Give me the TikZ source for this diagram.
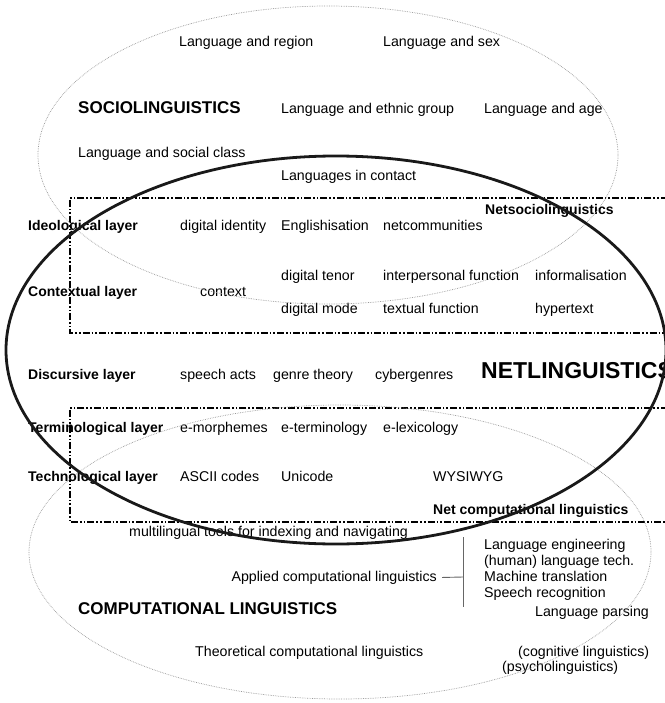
\documentclass[tikz,border=0pt]{standalone}
\usepackage{fontspec}
\setmainfont{Liberation Sans}
\begin{document}
\begin{tikzpicture}[x=1pt,y=-1pt,
  lbl/.style={anchor=mid west,inner sep=0pt,yshift=-2.5pt,font=\fontsize{14.2}{16}\selectfont},
  layer/.style={lbl,font=\fontsize{14}{16}\selectfont\bfseries},
  field/.style={lbl,font=\fontsize{17}{19}\selectfont\bfseries},
  bigfield/.style={lbl,font=\fontsize{23}{25}\selectfont\bfseries},
  faintring/.style={densely dotted,gray!80,line width=0.7pt},
  netring/.style={line width=2.8pt,black!90},
  layerbox/.style={line width=1.4pt,dash pattern=on 7pt off 2pt on 1.6pt off 2pt on 1.6pt off 2pt},
  bracket/.style={gray!80!black,line width=0.9pt}]
\useasboundingbox (0,0) rectangle (664,703);

% sociolinguistics
\node[lbl] (lr) at (179,41) {Language and region};
\node[lbl] (ls) at (383,41) {Language and sex};
\node[field] (socio) at (78,108) {SOCIOLINGUISTICS};
\node[lbl] (leg) at (281,108) {Language and ethnic group};
\node[lbl] (la) at (484,108) {Language and age};
\node[lbl] (lsc) at (78,152) {Language and social class};
\node[lbl] (lic) at (281,175) {Languages in contact};

% upper layers
\node[layer] (netsocio) at (485,209) {Netsociolinguistics};
\node[layer] (ideo) at (28,225) {Ideological layer};
\node[lbl] (did) at (180,225) {digital identity};
\node[lbl] (eng) at (281,225) {Englishisation};
\node[lbl] (netc) at (383,225) {netcommunities};
\node[lbl] (dten) at (281,275) {digital tenor};
\node[lbl] (ipf) at (383,275) {interpersonal function};
\node[lbl] (inf) at (535,275) {informalisation};
\node[layer] (ctxl) at (28,291) {Contextual layer};
\node[lbl] (ctx) at (200,291) {context};
\node[lbl] (dmode) at (281,308) {digital mode};
\node[lbl] (txf) at (383,308) {textual function};
\node[lbl] (hyp) at (535,308) {hypertext};

% discursive layer
\node[layer] (disc) at (28,374) {Discursive layer};
\node[lbl] (sa) at (180,374) {speech acts};
\node[lbl] (gt) at (273,374) {genre theory};
\node[lbl] (cg) at (375,374) {cybergenres};
\node[bigfield] (netling) at (481,373) {NETLINGUISTICS};

% lower layers
\node[layer] (term) at (28,427) {Terminological layer};
\node[lbl] (emor) at (180,427) {e-morphemes};
\node[lbl] (eter) at (281,427) {e-terminology};
\node[lbl] (elex) at (383,427) {e-lexicology};
\node[layer] (tech) at (28,476) {Technological layer};
\node[lbl] (ascii) at (180,476) {ASCII codes};
\node[lbl] (uni) at (281,476) {Unicode};
\node[lbl] (wys) at (433,476) {WYSIWYG};
\node[layer] (netcomp) at (433,509) {Net computational linguistics};

% computational linguistics
\node[lbl] (mlt) at (129,531) {multilingual tools for indexing and navigating};
\node[lbl] (le) at (484,544) {Language engineering};
\node[lbl] (hlt) at (484,560) {(human) language tech.};
\node[lbl] (mt) at (484,576) {Machine translation};
\node[lbl] (sr) at (484,592) {Speech recognition};
\node[lbl,anchor=mid east] (acl) at (437,576) {Applied computational linguistics};
\node[lbl] (lp) at (535,611) {Language parsing};
\node[field] (comp) at (78,609) {COMPUTATIONAL LINGUISTICS};
\node[lbl] (tcl) at (195,651) {Theoretical computational linguistics};
\node[lbl] (cog) at (518,651) {(cognitive linguistics)};
\node[lbl] (psy) at (502,666) {(psycholinguistics)};

% bracket joining the applied branch to its fields
\coordinate (brtop) at (463,537);
\coordinate (brbot) at (463,607);
\coordinate (brmid) at (463,577);
\draw[bracket] (brtop) -- (brbot);
\draw[bracket] ([xshift=5pt]acl.east) -- (brmid);

% layer frames
\draw[layerbox] (700,198) -- (70,198) -- (70,333) -- (700,333);
\draw[layerbox] (700,408) -- (70,408) -- (70,522) -- (700,522);

% field rings
\draw[faintring] (328,155) ellipse [x radius=290pt, y radius=149pt];
\draw[faintring] (340,552) ellipse [x radius=311pt, y radius=147pt];
\draw[netring] (336,350) ellipse [x radius=330pt, y radius=194pt];
\end{tikzpicture}
\end{document}
